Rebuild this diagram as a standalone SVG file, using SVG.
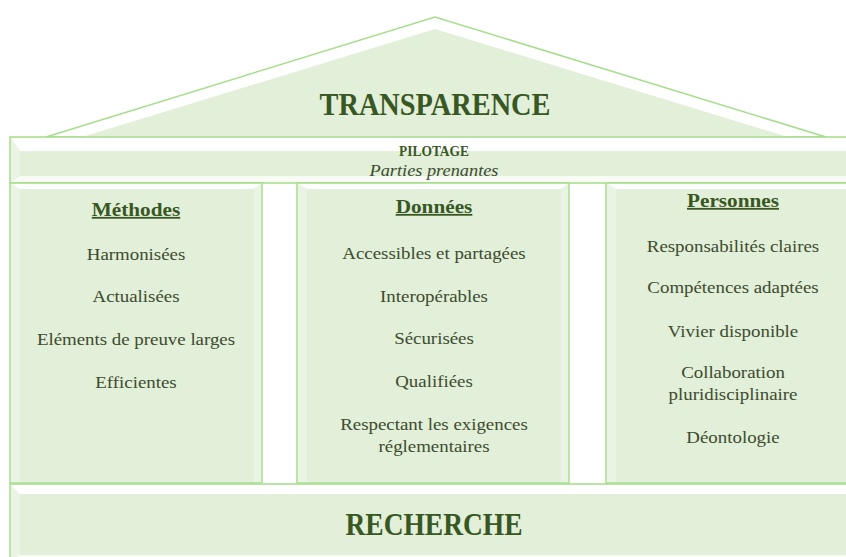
<svg xmlns="http://www.w3.org/2000/svg" width="846" height="557" viewBox="0 0 846 557">
<style>
.outer{fill:#f2f8ee;stroke:#a6de8c;stroke-width:1.5}
.top{fill:#ffffff}
.bot{fill:#f8fcf5}
.side{fill:#eaf4e4}
.inner{fill:#e2efd9}
.big{font-family:"Liberation Serif",serif;font-weight:bold;font-size:32px;fill:#385723;text-anchor:middle}
.head{font-family:"Liberation Serif",serif;font-weight:bold;font-size:18px;fill:#385723;text-anchor:middle;text-decoration:underline}
.body{font-family:"Liberation Serif",serif;font-size:16px;fill:#3d4b2f;text-anchor:middle}
.pil{font-family:"Liberation Serif",serif;font-weight:bold;font-size:14px;fill:#385723;text-anchor:middle}
.ital{font-family:"Liberation Serif",serif;font-style:italic;font-size:16px;fill:#3d4b2f;text-anchor:middle}
</style>
<rect width="846" height="557" fill="#ffffff"/>
<g id="connectors"/>
<g id="roof">
<polygon points="46,137 435,17 826,137" fill="#ffffff" stroke="#a6de8c" stroke-width="1.5"/>
<polygon points="82,137 435,29 788,137" class="inner"/>
<text class="big" x="435" y="115" textLength="231" lengthAdjust="spacingAndGlyphs">TRANSPARENCE</text>
</g>
<g id="pilotage">
<rect class="outer" x="10" y="137" width="850" height="46"/>
<polygon class="top" points="11,138 859,138 849,151 20,151"/>
<polygon class="bot" points="11,182 859,182 849,176 20,176"/>
<polygon class="side" points="11,138 20,151 20,176 11,182"/>
<rect class="inner" x="20" y="151" width="830" height="25"/>
<text class="pil" x="434" y="156" textLength="70" lengthAdjust="spacingAndGlyphs">PILOTAGE</text>
<text class="ital" x="434" y="176" textLength="129" lengthAdjust="spacingAndGlyphs">Parties prenantes</text>
</g>
<g id="col-methodes">
<rect class="outer" x="10" y="183" width="252" height="300"/>
<polygon class="top" points="11,184 261,184 254,189 20,189"/>
<polygon class="side" points="11,184 20,189 20,482 11,482"/>
<polygon class="side" points="261,184 254,189 254,482 261,482"/>
<rect class="inner" x="20" y="189" width="234" height="293"/>
<g transform="translate(136 0) scale(1.18 1)">
<text class="head" x="0" y="216">Méthodes</text>
<text class="body" x="0" y="260">Harmonisées</text>
<text class="body" x="0" y="302">Actualisées</text>
<text class="body" x="0" y="345">Eléments de preuve larges</text>
<text class="body" x="0" y="388">Efficientes</text>
</g>
</g>
<g id="col-donnees">
<rect class="outer" x="297" y="183" width="272" height="300"/>
<polygon class="top" points="298,184 568,184 561,189 307,189"/>
<polygon class="side" points="298,184 307,189 307,482 298,482"/>
<polygon class="side" points="568,184 561,189 561,482 568,482"/>
<rect class="inner" x="307" y="189" width="254" height="293"/>
<g transform="translate(434 0) scale(1.18 1)">
<text class="head" x="0" y="213">Données</text>
<text class="body" x="0" y="259">Accessibles et partagées</text>
<text class="body" x="0" y="302">Interopérables</text>
<text class="body" x="0" y="344">Sécurisées</text>
<text class="body" x="0" y="387">Qualifiées</text>
<text class="body" x="0" y="430">Respectant les exigences</text>
<text class="body" x="0" y="452">réglementaires</text>
</g>
</g>
<g id="col-personnes">
<rect class="outer" x="606" y="183" width="254" height="300"/>
<polygon class="top" points="607,184 859,184 852,189 616,189"/>
<polygon class="side" points="607,184 616,189 616,482 607,482"/>
<rect class="inner" x="616" y="189" width="240" height="293"/>
<g transform="translate(733 0) scale(1.18 1)">
<text class="head" x="0" y="207">Personnes</text>
<text class="body" x="0" y="252">Responsabilités claires</text>
<text class="body" x="0" y="293">Compétences adaptées</text>
<text class="body" x="0" y="337">Vivier disponible</text>
<text class="body" x="0" y="378">Collaboration</text>
<text class="body" x="0" y="400">pluridisciplinaire</text>
<text class="body" x="0" y="443">Déontologie</text>
</g>
</g>
<g id="recherche">
<rect class="outer" x="10" y="484" width="850" height="76"/>
<polygon class="top" points="11,485 859,485 849,494 20,494"/>
<polygon class="side" points="11,485 20,494 20,559 11,559"/>
<rect class="inner" x="20" y="494" width="830" height="61"/>
<polygon class="bot" points="20,555 850,555 856,559 11,559"/>
<text class="big" x="434" y="535" textLength="177" lengthAdjust="spacingAndGlyphs">RECHERCHE</text>
</g>
</svg>
